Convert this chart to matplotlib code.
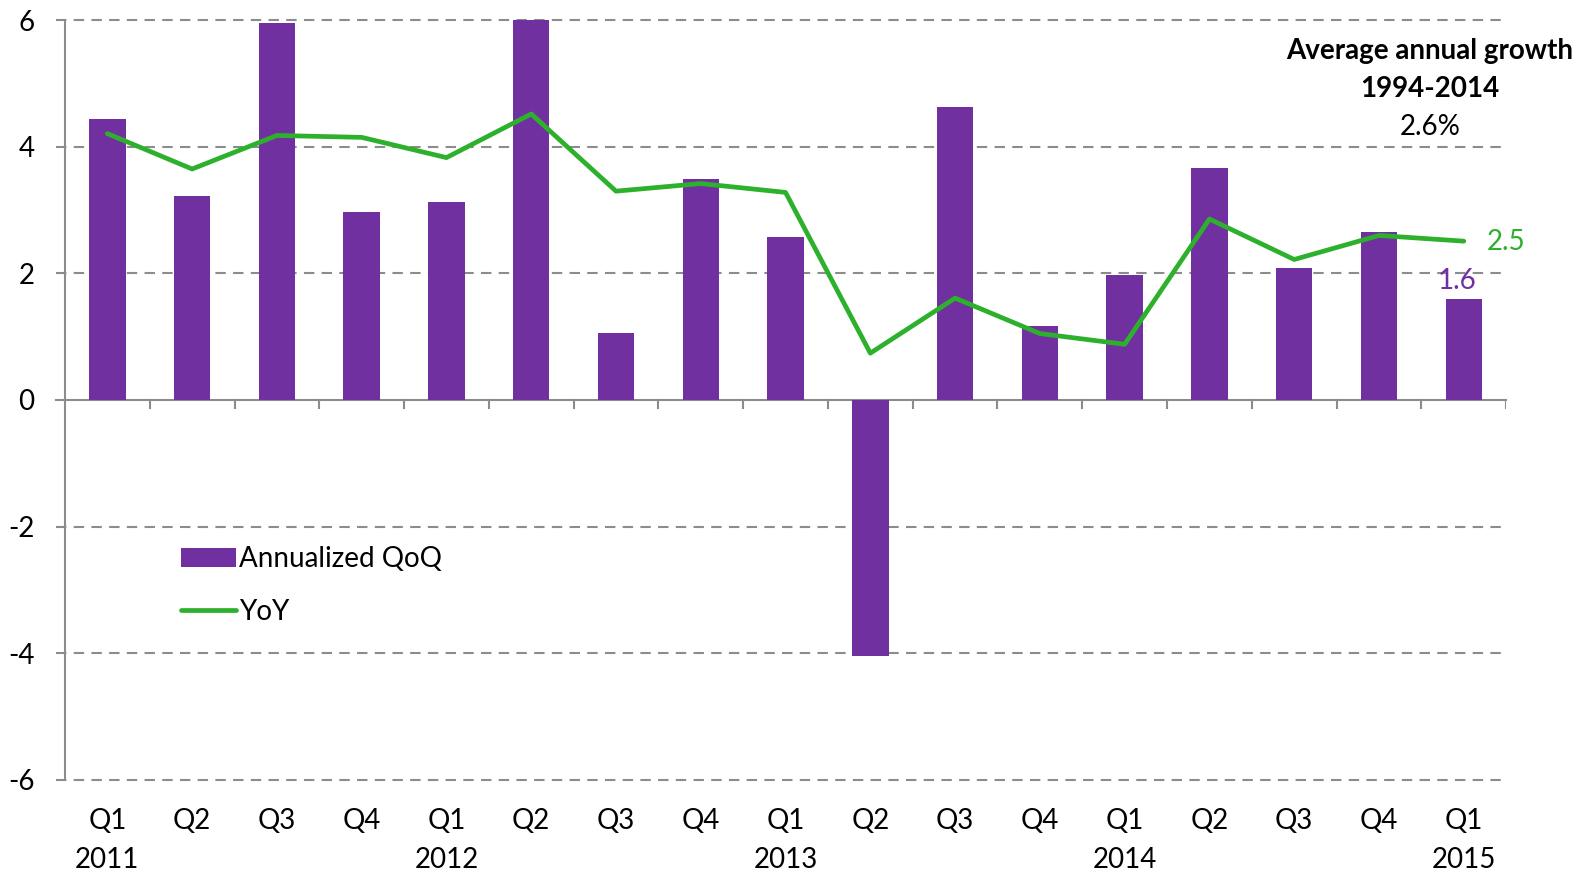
import matplotlib.pyplot as plt
import numpy as np

plt.rcParams['font.family'] = ['Lato', 'DejaVu Sans']

quarters = ["Q1", "Q2", "Q3", "Q4", "Q1", "Q2", "Q3", "Q4", "Q1", "Q2", "Q3", "Q4",
            "Q1", "Q2", "Q3", "Q4", "Q1"]
years = ["2011", "", "", "", "2012", "", "", "", "2013", "", "", "", "2014", "", "", "", "2015"]
qoq = [4.44, 3.22, 5.95, 2.97, 3.13, 6.0, 1.06, 3.49, 2.57, -4.05, 4.63, 1.17,
       1.98, 3.67, 2.09, 2.65, 1.6]
yoy = [4.21, 3.65, 4.18, 4.15, 3.83, 4.52, 3.30, 3.42, 3.28, 0.74, 1.61, 1.05,
       0.88, 2.86, 2.22, 2.60, 2.51]

purple = "#7030A0"
green = "#2DB12D"
grey = "#8C8C8C"
fs = 20

fig = plt.figure(figsize=(15.96, 8.82), dpi=100)
ax = fig.add_axes([0.0407, 0.116, 0.903, 0.861])

x = np.arange(len(qoq))
bars = ax.bar(x, qoq, width=0.43, color=purple, label="Annualized QoQ", zorder=3)
line, = ax.plot(x, yoy, color=green, lw=3.4, label="YoY", zorder=4, solid_capstyle="round")

ax.set_xlim(-0.5, len(qoq) - 0.5)
ax.set_ylim(-6, 6)
ax.set_yticks([-6, -4, -2, 0, 2, 4, 6])
ax.set_yticklabels(["-6", "-4", "-2", "0", "2", "4", "6"])
for yv in [-6, -4, -2, 2, 4, 6]:
    ax.plot([-0.61, len(qoq) - 0.5], [yv, yv], color=grey, lw=1.5, ls=(0, (5, 3.5)),
            clip_on=False, zorder=1)
ax.plot([-0.61, len(qoq) - 0.5], [0, 0], color=grey, lw=1.5, clip_on=False, zorder=2)

for s in ["top", "right", "bottom"]:
    ax.spines[s].set_visible(False)
ax.spines["left"].set_color(grey)
ax.spines["left"].set_linewidth(1.5)
ax.tick_params(axis="y", length=0, labelsize=fs, pad=22)

# category separators on the zero line
ax.set_xticks([])
for b in np.arange(0.5, len(qoq), 1.0):
    ax.plot([b, b], [0, -0.13], color=grey, lw=1.5, zorder=2)

trans = ax.get_xaxis_transform()
for i in range(len(qoq)):
    ax.text(x[i], -0.054, quarters[i], transform=trans, ha="center", va="center", fontsize=fs)
    if years[i]:
        ax.text(x[i], -0.106, years[i], transform=trans, ha="center", va="center", fontsize=fs)

ax.text(15.6, 5.52, "Average annual growth", ha="center", va="center",
        fontsize=fs, fontweight="bold", clip_on=False)
ax.text(15.6, 4.92, "1994-2014", ha="center", va="center", fontsize=fs, fontweight="bold")
ax.text(15.6, 4.31, "2.6%", ha="center", va="center", fontsize=fs)
ax.text(16.27, 2.49, "2.5", color=green, ha="left", va="center", fontsize=fs, clip_on=False)
ax.text(15.92, 1.88, "1.6", color=purple, ha="center", va="center", fontsize=fs)

ax.legend([bars, line], ["Annualized QoQ", "YoY"], loc="upper left",
          bbox_to_anchor=(0.063, 0.34), frameon=False, fontsize=fs,
          handlelength=2.0, handletextpad=0.1, labelspacing=0.95)

fig.savefig("out.png", dpi=100)
